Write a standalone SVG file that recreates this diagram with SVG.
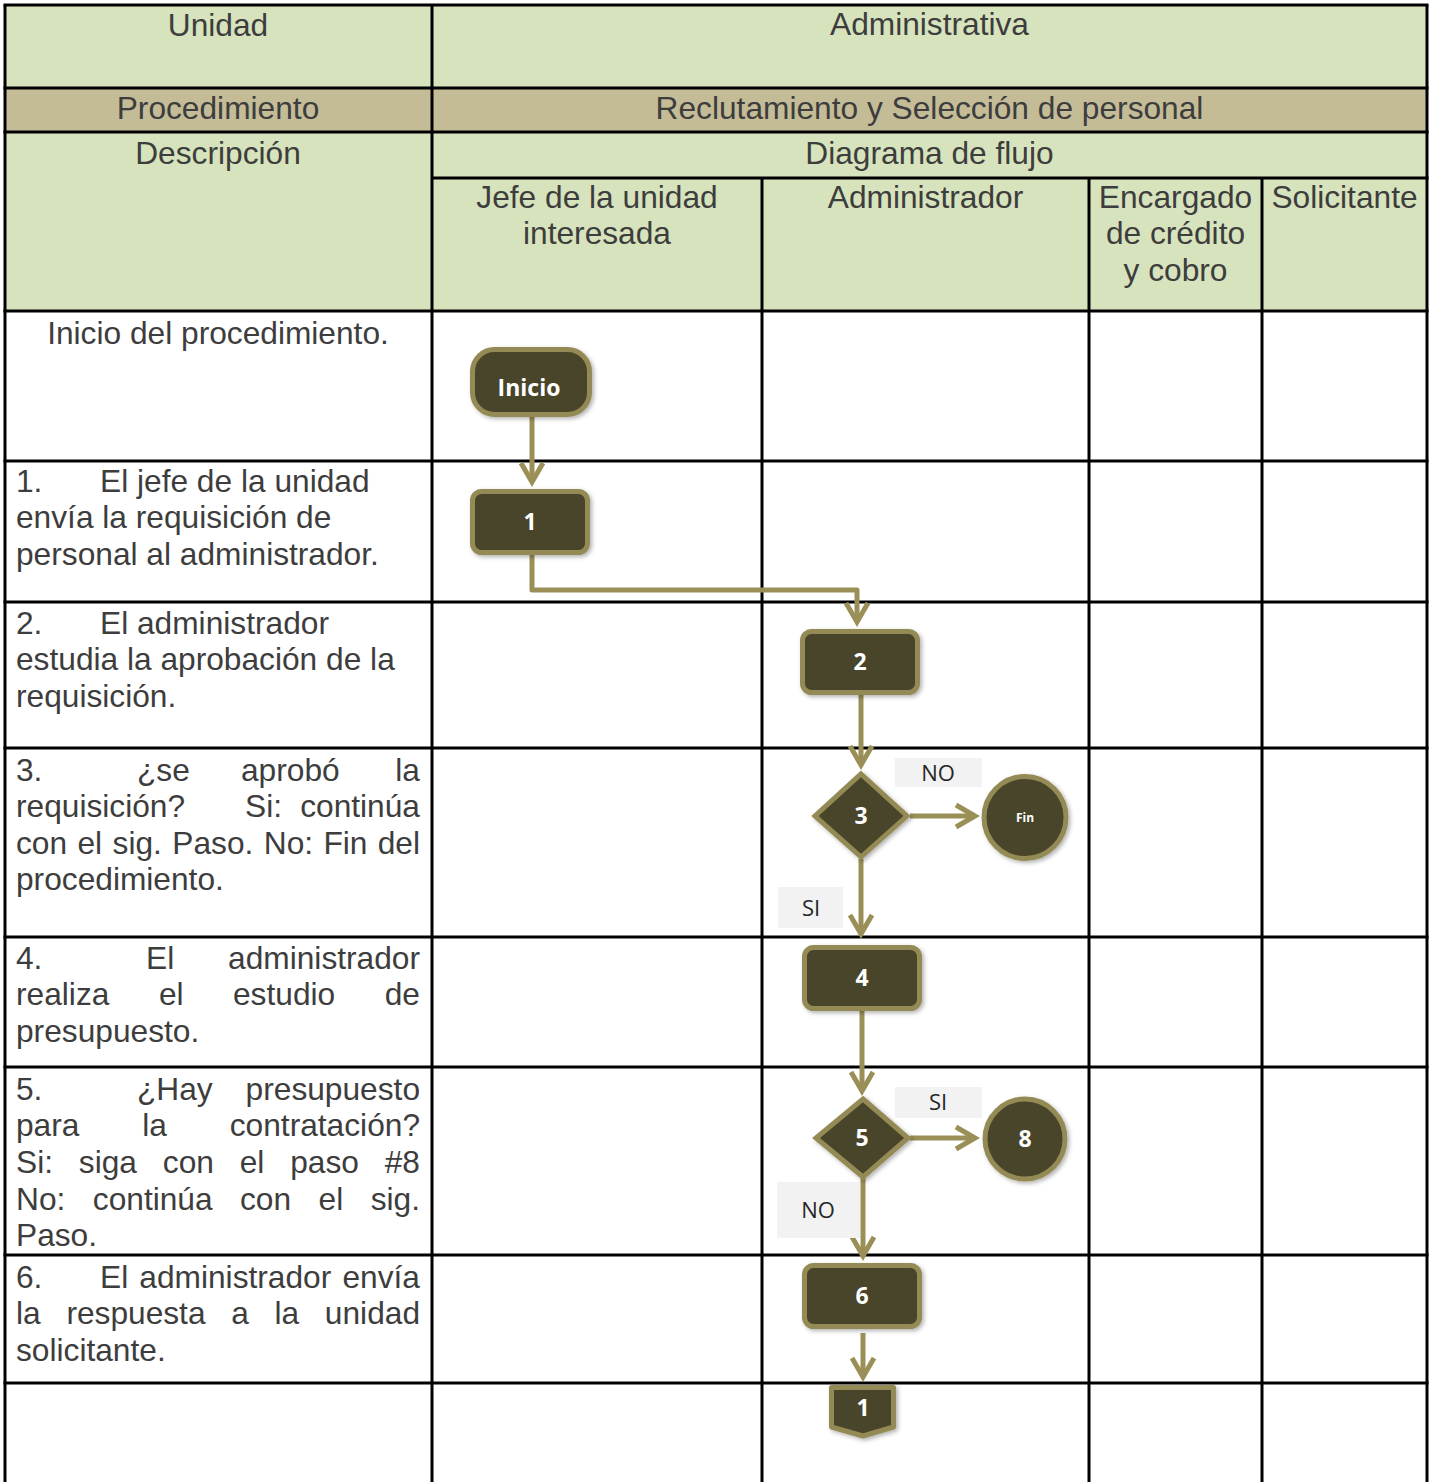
<svg xmlns="http://www.w3.org/2000/svg" width="1433" height="1482" viewBox="0 0 1433 1482">
<style>
.t{font-family:"Liberation Sans",Arial,sans-serif;font-size:31.7px;fill:#3d3d3d}
.c{text-anchor:middle}
.e{text-anchor:end}
.grid line{stroke:#000;stroke-width:3}
.shape{fill:#4A4429;stroke:#948A54;stroke-width:5;filter:url(#sh)}
.st{font-family:"Open Sans","Noto Sans",sans-serif;font-weight:bold;fill:#fff;text-anchor:middle;font-size:23px}
.conn path{fill:none;stroke:#9A8F57;stroke-width:5;stroke-linejoin:round;marker-end:url(#ah)}
.lbl rect{fill:#F2F2F2}
.lbl text{font-family:"Open Sans","Noto Sans",sans-serif;font-size:22px;fill:#262626;text-anchor:middle}
</style>
<defs>
<marker id="ah" markerUnits="userSpaceOnUse" viewBox="-26 -16 32 32" refX="0" refY="0" markerWidth="32" markerHeight="32" orient="auto" overflow="visible">
<path d="M-19,-11 L0,0 L-19,11" fill="none" stroke="#9A8F57" stroke-width="5" stroke-linejoin="miter"/>
</marker>
<filter id="sh" x="-20%" y="-20%" width="150%" height="150%">
<feDropShadow dx="2" dy="2" stdDeviation="2" flood-color="#000" flood-opacity="0.3"/>
</filter>
</defs>
<rect x="0" y="0" width="1433" height="1482" fill="#fff"/>

<g id="table">
<rect x="5" y="5" width="1422" height="83" fill="#D7E3BC"/>
<rect x="5" y="88" width="1422" height="44" fill="#C4BC96"/>
<rect x="5" y="132" width="1422" height="179" fill="#D7E3BC"/>
<g class="grid">
<line x1="3.5" y1="5" x2="1428.5" y2="5"/>
<line x1="3.5" y1="88" x2="1428.5" y2="88"/>
<line x1="3.5" y1="132" x2="1428.5" y2="132"/>
<line x1="432" y1="178" x2="1428.5" y2="178"/>
<line x1="3.5" y1="311" x2="1428.5" y2="311"/>
<line x1="3.5" y1="461" x2="1428.5" y2="461"/>
<line x1="3.5" y1="602" x2="1428.5" y2="602"/>
<line x1="3.5" y1="748" x2="1428.5" y2="748"/>
<line x1="3.5" y1="937" x2="1428.5" y2="937"/>
<line x1="3.5" y1="1067" x2="1428.5" y2="1067"/>
<line x1="3.5" y1="1255" x2="1428.5" y2="1255"/>
<line x1="3.5" y1="1383" x2="1428.5" y2="1383"/>
<line x1="5" y1="5" x2="5" y2="1482"/>
<line x1="432" y1="5" x2="432" y2="1482"/>
<line x1="762" y1="178" x2="762" y2="1482"/>
<line x1="1089" y1="178" x2="1089" y2="1482"/>
<line x1="1262" y1="178" x2="1262" y2="1482"/>
<line x1="1427" y1="5" x2="1427" y2="1482"/>
</g>
</g>

<g id="header">
<text class="t c" x="218" y="36">Unidad</text>
<text class="t c" x="929.5" y="35">Administrativa</text>
<text class="t c" x="218" y="119">Procedimiento</text>
<text class="t c" x="929.5" y="119">Reclutamiento y Selección de personal</text>
<text class="t c" x="218" y="164">Descripción</text>
<text class="t c" x="929.5" y="164">Diagrama de flujo</text>
<text class="t c" x="597" y="208">Jefe de la unidad</text>
<text class="t c" x="597" y="244">interesada</text>
<text class="t c" x="925.5" y="208">Administrador</text>
<text class="t c" x="1175.5" y="208">Encargado</text>
<text class="t c" x="1175.5" y="244">de crédito</text>
<text class="t c" x="1175.5" y="281">y cobro</text>
<text class="t c" x="1344.5" y="208">Solicitante</text>
</g>

<g id="descriptions">
<text class="t c" x="218" y="344">Inicio del procedimiento.</text>

<text class="t" y="492"><tspan x="16">1.</tspan><tspan x="100">El jefe de la unidad</tspan></text>
<text class="t" x="16" y="528">envía la requisición de</text>
<text class="t" x="16" y="565">personal al administrador.</text>

<text class="t" y="634"><tspan x="16">2.</tspan><tspan x="100">El administrador</tspan></text>
<text class="t" x="16" y="670">estudia la aprobación de la</text>
<text class="t" x="16" y="707">requisición.</text>

<text class="t" y="781"><tspan x="16">3.</tspan><tspan x="137">¿se</tspan><tspan x="241">aprobó</tspan></text>
<text class="t e" x="420" y="781">la</text>
<text class="t" y="817"><tspan x="16">requisición?</tspan><tspan x="245">Si:</tspan></text>
<text class="t e" x="420" y="817">continúa</text>
<text class="t" y="854"><tspan x="16">con</tspan><tspan x="77.5">el</tspan><tspan x="112.6">sig.</tspan><tspan x="172.3">Paso.</tspan><tspan x="263.8">No:</tspan><tspan x="323.4">Fin</tspan></text>
<text class="t e" x="420" y="854">del</text>
<text class="t" x="16" y="890">procedimiento.</text>

<text class="t" y="969"><tspan x="16">4.</tspan><tspan x="146">El</tspan></text>
<text class="t e" x="420" y="969">administrador</text>
<text class="t" y="1005"><tspan x="16">realiza</tspan><tspan x="158.9">el</tspan><tspan x="233">estudio</tspan></text>
<text class="t e" x="420" y="1005">de</text>
<text class="t" x="16" y="1042">presupuesto.</text>

<text class="t" y="1100"><tspan x="16">5.</tspan><tspan x="137">¿Hay</tspan></text>
<text class="t e" x="420" y="1100">presupuesto</text>
<text class="t" y="1136"><tspan x="16">para</tspan><tspan x="142.2">la</tspan></text>
<text class="t e" x="420" y="1136">contratación?</text>
<text class="t" y="1173"><tspan x="16">Si:</tspan><tspan x="78.8">siga</tspan><tspan x="162.8">con</tspan><tspan x="239.7">el</tspan><tspan x="290.2">paso</tspan></text>
<text class="t e" x="420" y="1173">#8</text>
<text class="t" y="1210"><tspan x="16">No:</tspan><tspan x="92.8">continúa</tspan><tspan x="240">con</tspan><tspan x="318.6">el</tspan></text>
<text class="t e" x="420" y="1210">sig.</text>
<text class="t" x="16" y="1246">Paso.</text>

<text class="t" y="1288"><tspan x="16">6.</tspan><tspan x="100">El</tspan><tspan x="139.3">administrador</tspan></text>
<text class="t e" x="420" y="1288">envía</text>
<text class="t" y="1324"><tspan x="16">la</tspan><tspan x="66.4">respuesta</tspan><tspan x="231.2">a</tspan><tspan x="274.5">la</tspan></text>
<text class="t e" x="420" y="1324">unidad</text>
<text class="t" x="16" y="1361">solicitante.</text>
</g>

<g id="connectors" class="conn">
<path d="M532,417 L532,482"/>
<path d="M532,555 L532,590 L857,590 L857,622"/>
<path d="M861,695 L861,765"/>
<path d="M910,816 L975,816"/>
<path d="M861,859 L861,934"/>
<path d="M862,1011 L862,1091"/>
<path d="M910,1138 L975,1138"/>
<path d="M863,1178 L863,1256"/>
<path d="M863,1333 L863,1377"/>
</g>

<g id="labels" class="lbl">
<g id="lbl-no-3"><rect x="895" y="758" width="87" height="29"/><text x="938" y="781">NO</text></g>
<g id="lbl-si-3"><rect x="778" y="887" width="65" height="41"/><text x="811" y="916">SI</text></g>
<g id="lbl-si-5"><rect x="895" y="1087" width="87" height="31"/><text x="938" y="1110">SI</text></g>
<g id="lbl-no-5"><rect x="777" y="1182" width="83" height="56"/><text x="818" y="1218">NO</text></g>
</g>

<g id="node-inicio"><rect class="shape" x="472.5" y="349.5" width="117" height="65" rx="22"/><text class="st" x="529" y="396">Inicio</text></g>
<g id="node-1"><rect class="shape" x="472.5" y="491.5" width="115" height="61" rx="9"/><text class="st" x="530" y="530">1</text></g>
<g id="node-2"><rect class="shape" x="802.5" y="631.5" width="115" height="61" rx="9"/><text class="st" x="860" y="670">2</text></g>
<g id="node-3"><path class="shape" d="M861,774 L907,816 L861,857 L815,816 Z"/><text class="st" x="861" y="824">3</text></g>
<g id="node-fin"><circle class="shape" cx="1025" cy="817.5" r="41"/><text class="st" x="1025" y="822" style="font-size:12px">Fin</text></g>
<g id="node-4"><rect class="shape" x="804.5" y="947.5" width="115" height="61" rx="9"/><text class="st" x="862" y="986">4</text></g>
<g id="node-5"><path class="shape" d="M863,1099 L908,1138 L863,1177 L816,1138 Z"/><text class="st" x="862" y="1146">5</text></g>
<g id="node-8"><circle class="shape" cx="1025" cy="1139" r="40"/><text class="st" x="1025" y="1147">8</text></g>
<g id="node-6"><rect class="shape" x="804.5" y="1265.5" width="115" height="61" rx="9"/><text class="st" x="862" y="1304">6</text></g>
<g id="node-offpage-1"><path class="shape" d="M831.5,1387.5 L893.5,1387.5 L893.5,1427 L863,1436 L831.5,1427 Z" stroke-linejoin="round"/><text class="st" x="863" y="1416">1</text></g>
</svg>
